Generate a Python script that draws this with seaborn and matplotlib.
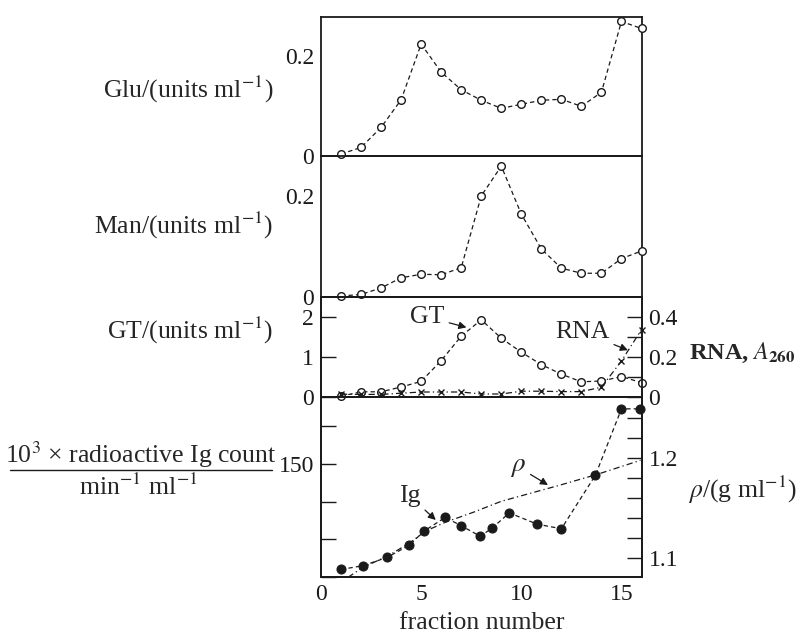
import matplotlib
matplotlib.use('Agg')
import matplotlib.pyplot as plt
import seaborn as sns
from matplotlib.lines import Line2D

# ---- data ----
fraction = list(range(1, 17))
glu = [0.004, 0.017, 0.057, 0.112, 0.223, 0.167, 0.132, 0.111, 0.095, 0.103,
       0.111, 0.113, 0.099, 0.127, 0.268, 0.254]
man = [0.002, 0.005, 0.018, 0.038, 0.045, 0.044, 0.058, 0.200, 0.259, 0.164,
       0.095, 0.057, 0.047, 0.047, 0.076, 0.091]
gt = [0.02, 0.13, 0.13, 0.25, 0.39, 0.91, 1.52, 1.93, 1.47, 1.12,
      0.81, 0.57, 0.38, 0.40, 0.51, 0.36]
rna = [0.014, 0.013, 0.013, 0.019, 0.025, 0.025, 0.025, 0.015, 0.015, 0.029,
       0.029, 0.027, 0.027, 0.049, 0.180, 0.337]
ig_x = [1.0, 2.1, 3.3, 4.4, 5.15, 6.2, 7.0, 7.95, 8.55, 9.4, 10.8, 12.0, 13.7, 15.0, 15.95]
ig = [10, 15, 26, 42, 61, 79, 68, 54, 65, 85, 70, 64, 135, 223, 223]
rho_x = [1.35, 2.1, 3.3, 4.4, 5.2, 6.2, 7.6, 9.0, 11.9, 13.8, 15.95]
rho = [1.081, 1.091, 1.102, 1.115, 1.127, 1.136, 1.146, 1.157, 1.173, 1.184, 1.198]

xticklabels_bottom = ['0', '5', '10', '15']

sns.set_theme(style='white')
plt.rcParams['font.family'] = ['Liberation Serif', 'DejaVu Serif']
plt.rcParams['mathtext.fontset'] = 'stix'

FS = 18.5      # axis titles and annotations
TFS = 17       # tick labels
W, H = 800, 633
fig = plt.figure(figsize=(8, 6.33), dpi=100)
fig.patch.set_facecolor('white')

L = 321 / W
Wd = (641.5 - 321) / W


def ax_at(top_px, bot_px):
    return fig.add_axes([L, 1 - bot_px / H, Wd, (bot_px - top_px) / H])


ax1 = ax_at(16.7, 156)
ax2 = ax_at(156, 297)
ax3 = ax_at(297, 397)
ax4 = ax_at(397, 577)
ax3r = ax3.twinx()
ax4r = ax4.twinx()

dash = (0, (3.5, 2.5))
dashdot = (0, (5, 2.5, 1, 2.5))
open_kw = dict(color='k', linestyle=dash, linewidth=0.9, marker='o', markersize=5.5,
               markerfacecolor='white', markeredgecolor='k', markeredgewidth=1.0,
               clip_on=False, legend=False, zorder=5)

sns.lineplot(x=fraction, y=glu, ax=ax1, **open_kw)
sns.lineplot(x=fraction, y=man, ax=ax2, **open_kw)
sns.lineplot(x=fraction, y=gt, ax=ax3, **open_kw)
sns.lineplot(x=fraction, y=rna, ax=ax3r, color='k', linestyle=dashdot, linewidth=0.9,
             marker='x', markersize=5, markeredgewidth=1.0, markeredgecolor='k',
             clip_on=False, legend=False)
sns.lineplot(x=ig_x, y=ig, ax=ax4, color='k', linestyle=dash, linewidth=0.9,
             marker='o', markersize=6.5, markerfacecolor='k', markeredgecolor='k',
             clip_on=False, legend=False, sort=False, zorder=5)
sns.lineplot(x=rho_x, y=rho, ax=ax4r, color='k', linestyle=dashdot, linewidth=0.9,
             clip_on=False, legend=False, sort=False)

for ax in (ax1, ax2, ax3, ax4, ax3r, ax4r):
    ax.set_xlim(0, 16)
    ax.set_xlabel('')
    ax.set_ylabel('')
    ax.set_facecolor('none')
    for s in ax.spines.values():
        s.set_visible(True)
        s.set_linewidth(1.3)
        s.set_color('k')
    ax.tick_params(direction='in', length=11, width=1.0, colors='k',
                   labelsize=TFS, pad=5)

ax1.set_ylim(0, 0.2775)
ax2.set_ylim(0, 0.279)
for ax in (ax1, ax2):
    ax.set_yticks([0, 0.1, 0.2])
    ax.set_yticklabels(['0', '', '0.2'])

ax3.set_ylim(0, 2.5)
ax3.set_yticks([0, 1, 2])
ax3.set_yticklabels(['0', '1', '2'])
ax3r.set_ylim(0, 0.5)
ax3r.set_yticks([0, 0.1, 0.2, 0.3, 0.4])
ax3r.set_yticklabels(['0', '', '0.2', '', '0.4'])

ax4.set_ylim(0, 238.7)
ax4.set_yticks([0, 50, 100, 150, 200])
ax4.set_yticklabels(['', '', '', '150', ''])
ax4r.set_ylim(1.0813, 1.2613)
ax4r.set_yticks([1.10, 1.12, 1.14, 1.16, 1.18, 1.20, 1.22, 1.24])
ax4r.set_yticklabels(['1.1', '', '', '', '', '1.2', '', ''])

for ax in (ax1, ax2, ax3):
    ax.set_xticks([5, 10, 15])
    ax.tick_params(axis='x', length=14, labelbottom=False)
ax3r.tick_params(axis='x', bottom=False, labelbottom=False)
ax4r.tick_params(axis='x', bottom=False, labelbottom=False)
ax4.set_xticks(range(0, 16))
ax4.set_xticklabels([xticklabels_bottom[i // 5] if i % 5 == 0 else '' for i in range(16)])
ax4.tick_params(axis='x', length=12, pad=5)

# annotations
arrow = dict(arrowstyle='-|>', color='k', lw=0.9, mutation_scale=11,
             shrinkA=1, shrinkB=0)
ax3.annotate('GT', xy=(7.26, 1.74), xytext=(5.31, 2.0), ha='center', va='center',
             fontsize=FS, arrowprops=arrow)
ax3.annotate('RNA', xy=(15.32, 1.17), xytext=(13.04, 1.63), ha='center', va='center',
             fontsize=FS, arrowprops=arrow)
ax4.annotate('Ig', xy=(5.73, 75.6), xytext=(4.44, 107), ha='center', va='center',
             fontsize=FS, arrowprops=arrow)
ax4.annotate(r'$\rho$', xy=(11.33, 122), xytext=(9.84, 146), ha='center', va='center',
             fontsize=FS + 1, arrowprops=arrow)


def ftxt(x, y, s, **kw):
    kw.setdefault('fontsize', FS)
    fig.text(x / W, 1 - y / H, s, va='center', **kw)


ftxt(273, 89, r'Glu/(units ml$^{-1}$)', ha='right')
ftxt(273, 225, r'Man/(units ml$^{-1}$)', ha='right')
ftxt(273, 330, r'GT/(units ml$^{-1}$)', ha='right')
ftxt(689, 353, r'RNA, $\mathit{A}_{\mathbf{260}}$', ha='left', fontweight='bold',
     fontsize=17.5)
ftxt(688, 490, r'$\rho$/(g ml$^{-1}$)', ha='left')
ftxt(141, 455, r'10$^3$ × radioactive Ig count', ha='center')
ftxt(138, 487, r'min$^{-1}$ ml$^{-1}$', ha='center')
fig.add_artist(Line2D([10 / W, 272 / W], [1 - 469.5 / H, 1 - 469.5 / H],
                      color='k', lw=1.0, transform=fig.transFigure))
ftxt(482, 623, 'fraction number', ha='center')

fig.savefig('out.png', dpi=100, facecolor='white')
